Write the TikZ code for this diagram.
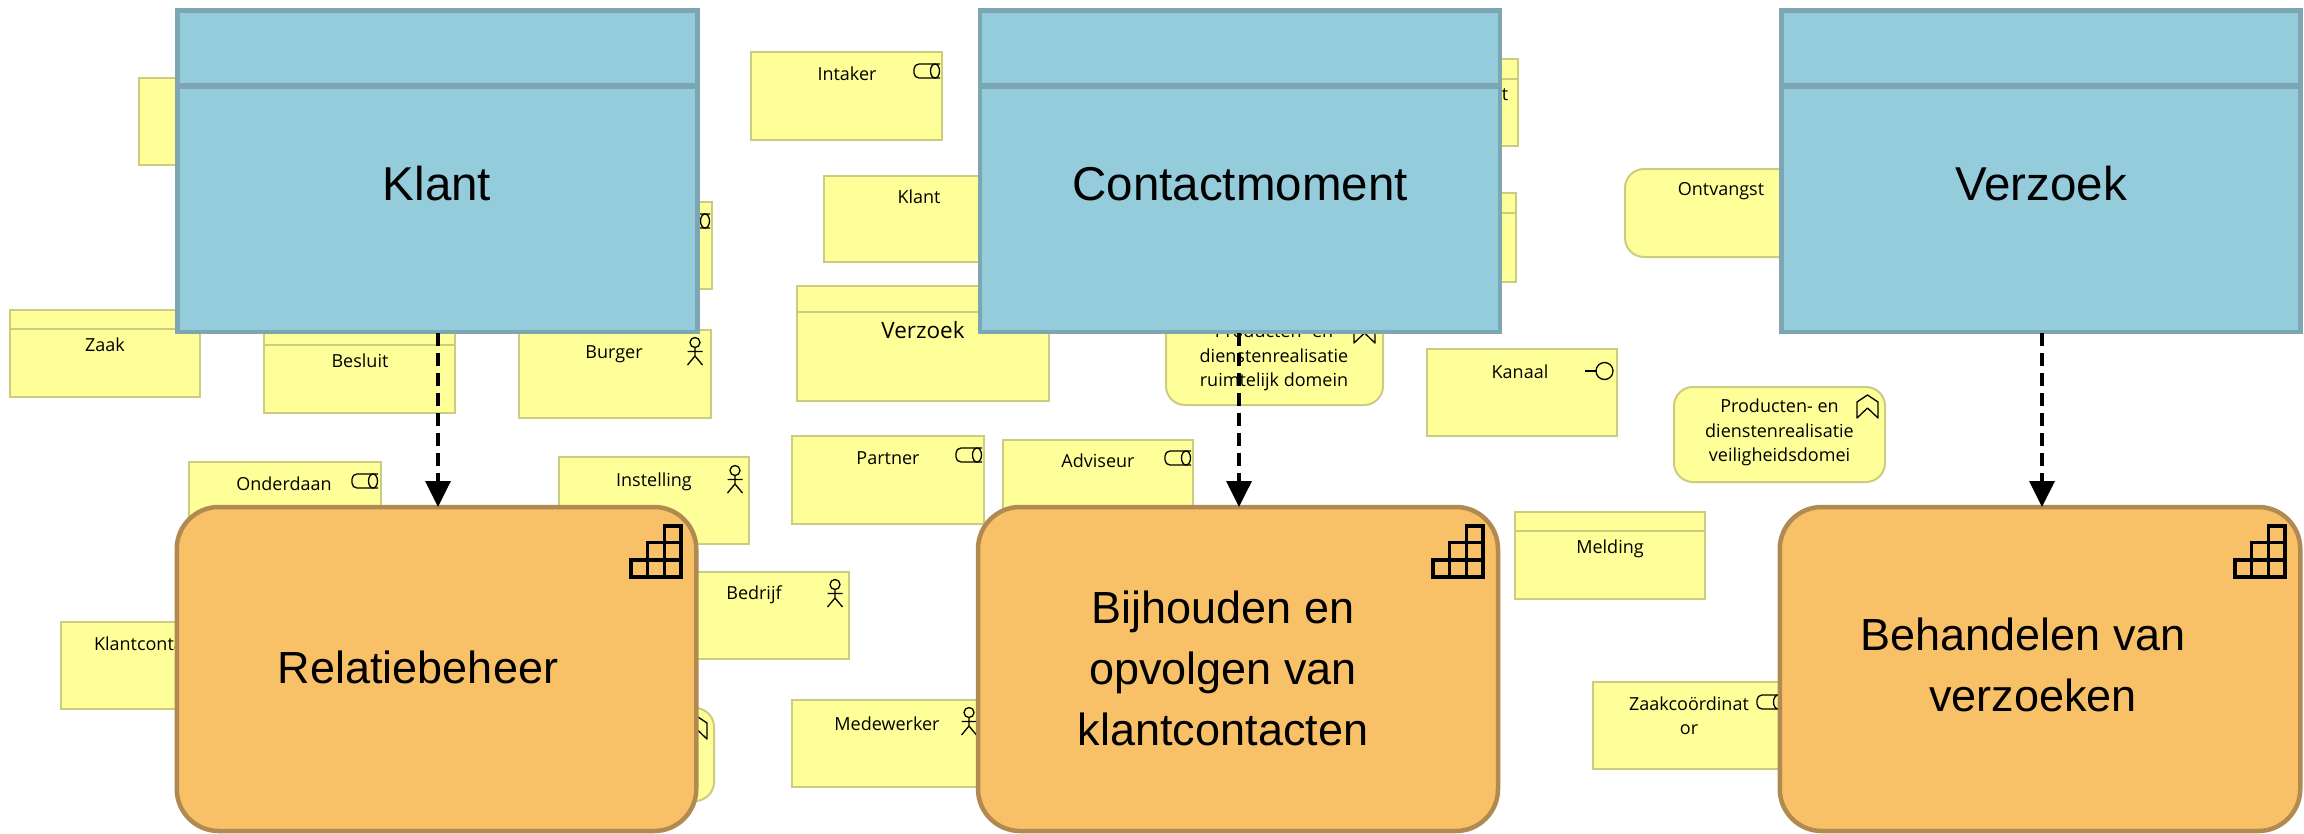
\documentclass[tikz,border=0pt]{standalone}
\usepackage{fontspec}
\setmainfont{Open Sans}
\newfontfamily\mainf{Liberation Sans}
\usetikzlibrary{arrows.meta}
\definecolor{yfill}{HTML}{FFFF99}
\definecolor{yline}{HTML}{CCCC80}
\definecolor{bfill}{HTML}{94CCDB}
\definecolor{bline}{HTML}{7CA6B2}
\definecolor{ofill}{HTML}{F8C067}
\definecolor{oline}{HTML}{B08A50}
\tikzset{
  ybase/.style={rectangle,draw=yline,fill=yfill,line width=2pt,inner sep=0pt,outer sep=0pt},
  yround/.style={rounded corners=19pt},
  yhead/.style={draw=yline,line width=2pt},
  stext/.style={inner sep=0pt,outer sep=0pt,yshift=-1.5pt,font=\fontsize{18}{24.5}\selectfont,text=black,align=center},
  bigy/.style={font=\fontsize{22.5}{28}\selectfont},
  bluebox/.style={rectangle,draw=bline,fill=bfill,line width=4.5pt,inner sep=0pt,outer sep=0pt},
  bluehead/.style={draw=bline,line width=5.5pt},
  orangebox/.style={rectangle,draw=oline,fill=ofill,line width=4.5pt,rounded corners=42pt,inner sep=0pt,outer sep=0pt},
  ltext/.style={inner sep=0pt,outer sep=0pt,font=\mainf\fontsize{47.5}{61}\selectfont,text=black,align=center},
  otext/.style={ltext,font=\mainf\fontsize{45}{61}\selectfont},
  icon/.style={draw=black,line width=1.3pt},
  stair/.style={draw=black,line width=3.2pt,line join=miter},
  realize/.style={draw=black,line width=3.6pt,dash pattern=on 13pt off 7pt,-{Triangle[length=26pt,width=25pt]}}
}
\newcommand{\boxat}[6][]{%
  \pgfmathsetmacro\bw{#5-#3}\pgfmathsetmacro\bh{#6-#4}%
  \pgfmathsetmacro\cx{(#3+#5)/2}\pgfmathsetmacro\cy{(#4+#6)/2}%
  \node[ybase,#1,minimum width=\bw pt,minimum height=\bh pt] (#2) at (\cx,\cy) {};}
\newcommand{\rolei}[2]{% left x, top y
  \draw[icon,rounded corners=5pt] (#1+26,#2) -- (#1,#2) -- (#1,#2+14) -- (#1+26,#2+14);
  \draw[icon] (#1+21,#2+7) ellipse (4.5pt and 7pt);}
\newcommand{\actori}[2]{% centre x, top y
  \draw[icon] (#1,#2+5.5) ellipse (5pt and 5pt);
  \draw[icon] (#1,#2+11) -- (#1,#2+19) (#1-7.5,#2+14.5) -- (#1+7.5,#2+14.5)
              (#1-7.5,#2+28) -- (#1,#2+19) -- (#1+7.5,#2+28);}
\newcommand{\cheveroni}[2]{% left x, top y
  \draw[icon,line join=round] (#1,#2+23) -- (#1,#2+7) -- (#1+10.5,#2) -- (#1+21,#2+7) -- (#1+21,#2+23) -- (#1+10.5,#2+13) -- cycle;}
\newcommand{\stairi}[2]{% left x, top y
  \draw[stair] (#1+1,#2+52) rectangle (#1+51,#2+35);
  \draw[stair] (#1+17.5,#2+52) -- (#1+17.5,#2+17.5) -- (#1+51,#2+17.5);
  \draw[stair] (#1+34.5,#2+52) -- (#1+34.5,#2+1) -- (#1+51,#2+1) -- (#1+51,#2+52);}
\begin{document}
\begin{tikzpicture}[x=1pt,y=-1pt]
\useasboundingbox (0,0) rectangle (2304,833);
\fill[white] (0,0) rectangle (2304,833);

% yellow background elements
\boxat{hiddenA}{139}{78}{329}{165}
\boxat{hiddenB}{522}{202}{712}{289}
\rolei{684}{214}
\boxat{zaak}{10}{310}{200}{397}
\draw[yhead] (10,329) -- (200,329);
\node[stext] (zaakT) at (105,343) {Zaak};
\boxat{besluit}{264}{326}{455}{413}
\draw[yhead] (264,345) -- (455,345);
\node[stext] (besluitT) at (360,359) {Besluit};
\boxat{burger}{519}{330}{711}{418}
\node[stext] (burgerT) at (614,353) {Burger};
\actori{695}{337}
\boxat{onderdaan}{189}{462}{381}{549}
\node[stext] (onderdaanT) at (284,482) {Onderdaan};
\rolei{352}{474}
\boxat{instelling}{559}{457}{749}{544}
\node[stext] (instellingT) at (654,480) {Instelling};
\actori{735}{465}
\boxat{bedrijf}{658}{572}{849}{659}
\node[stext] (bedrijfT) at (754,593) {Bedrijf};
\actori{835}{579}
\boxat{klantcontact}{61}{622}{251}{709}
\node[stext,anchor=west] (klantcontactT) at (94,642) {Klantcontact};
\boxat[yround]{hiddenC}{500}{708}{714}{801}
\cheveroni{686}{716}
\boxat{intaker}{751}{52}{942}{140}
\node[stext] (intakerT) at (847,72) {Intaker};
\rolei{914}{64}
\boxat{klantS}{824}{176}{1015}{262}
\node[stext] (klantST) at (919,195) {Klant};
\boxat{verzoekY}{797}{286}{1049}{401}
\draw[yhead] (797,312) -- (1049,312);
\node[stext,bigy] (verzoekYT) at (923,329) {Verzoek};
\boxat{partner}{792}{436}{984}{524}
\node[stext] (partnerT) at (888,457) {Partner};
\rolei{956}{448}
\boxat{adviseur}{1003}{440}{1193}{527}
\node[stext] (adviseurT) at (1098,459) {Adviseur};
\rolei{1165}{451}
\boxat{medewerker}{792}{700}{983}{787}
\node[stext] (medewerkerT) at (887,722) {Medewerker};
\actori{969}{707}
\boxat{hiddenD}{1327}{59}{1518}{146}
\draw[yhead] (1327,79) -- (1518,79);
\node[stext] (hiddenDT) at (1505,93) {t};
\boxat{hiddenE}{1325}{193}{1516}{282}
\draw[yhead] (1325,213) -- (1516,213);
\boxat[yround]{ruimtelijk}{1166}{310}{1383}{405}
\node[stext] (ruimtelijkT) at (1274,356) {Producten- en\\dienstenrealisatie\\ruimtelijk domein};
\cheveroni{1354}{320}
\boxat{kanaal}{1427}{349}{1617}{436}
\node[stext] (kanaalT) at (1520,370) {Kanaal};
\draw[icon] (1585,371) -- (1596,371);
\draw[icon] (1604.5,371) circle (8.5pt);
\boxat[yround]{ontvangst}{1625}{169}{1816}{257}
\node[stext] (ontvangstT) at (1721,190) {Ontvangst};
\boxat[yround]{veilig}{1674}{387}{1885}{482}
\node[stext] (veiligT) at (1779.5,431) {Producten- en\\dienstenrealisatie\\veiligheidsdomei};
\cheveroni{1857}{395}
\boxat{melding}{1515}{512}{1705}{599}
\draw[yhead] (1515,531) -- (1705,531);
\node[stext] (meldingT) at (1610,547) {Melding};
\boxat{zaakco}{1593}{682}{1784}{769}
\node[stext] (zaakcoT) at (1689,714) {Zaakcoördinat\\or};
\rolei{1757}{695}

% blue data objects
\node[bluebox,minimum width=520pt,minimum height=321.5pt] (klant) at (437.5,171) {};
\draw[bluehead] (176,86) -- (699,86);
\node[ltext] (klantL) at (437,184) {Klant};
\node[bluebox,minimum width=520pt,minimum height=321.5pt] (contact) at (1240,171) {};
\draw[bluehead] (978,86) -- (1502,86);
\node[ltext] (contactL) at (1240,184) {Contactmoment};
\node[bluebox,minimum width=519pt,minimum height=321.5pt] (verzoek) at (2041,171) {};
\draw[bluehead] (1780,86) -- (2302,86);
\node[ltext] (verzoekL) at (2041,184) {Verzoek};

% orange capabilities
\node[orangebox,minimum width=519.5pt,minimum height=324pt] (relatie) at (436.5,669) {};
\node[otext] (relatieL) at (418,667) {Relatiebeheer};
\stairi{630}{525}
\node[orangebox,minimum width=520pt,minimum height=324pt] (bijhouden) at (1238,669) {};
\node[otext] (bijhoudenL) at (1223,668) {Bijhouden en\\opvolgen van\\klantcontacten};
\stairi{1432}{525}
\node[orangebox,minimum width=520.5pt,minimum height=324pt] (behandel) at (2040,669) {};
\node[otext] (behandelL) at (2023,665) {Behandelen van\\\hspace*{20pt}verzoeken};
\stairi{2234}{525}

% realisation arrows
\coordinate (a1) at (438,333); \coordinate (a2) at (1239,333); \coordinate (a3) at (2042,333);
\draw[realize] (a1) -- (a1 |- relatie.north);
\draw[realize] (a2) -- (a2 |- bijhouden.north);
\draw[realize] (a3) -- (a3 |- behandel.north);
\end{tikzpicture}
\end{document}
